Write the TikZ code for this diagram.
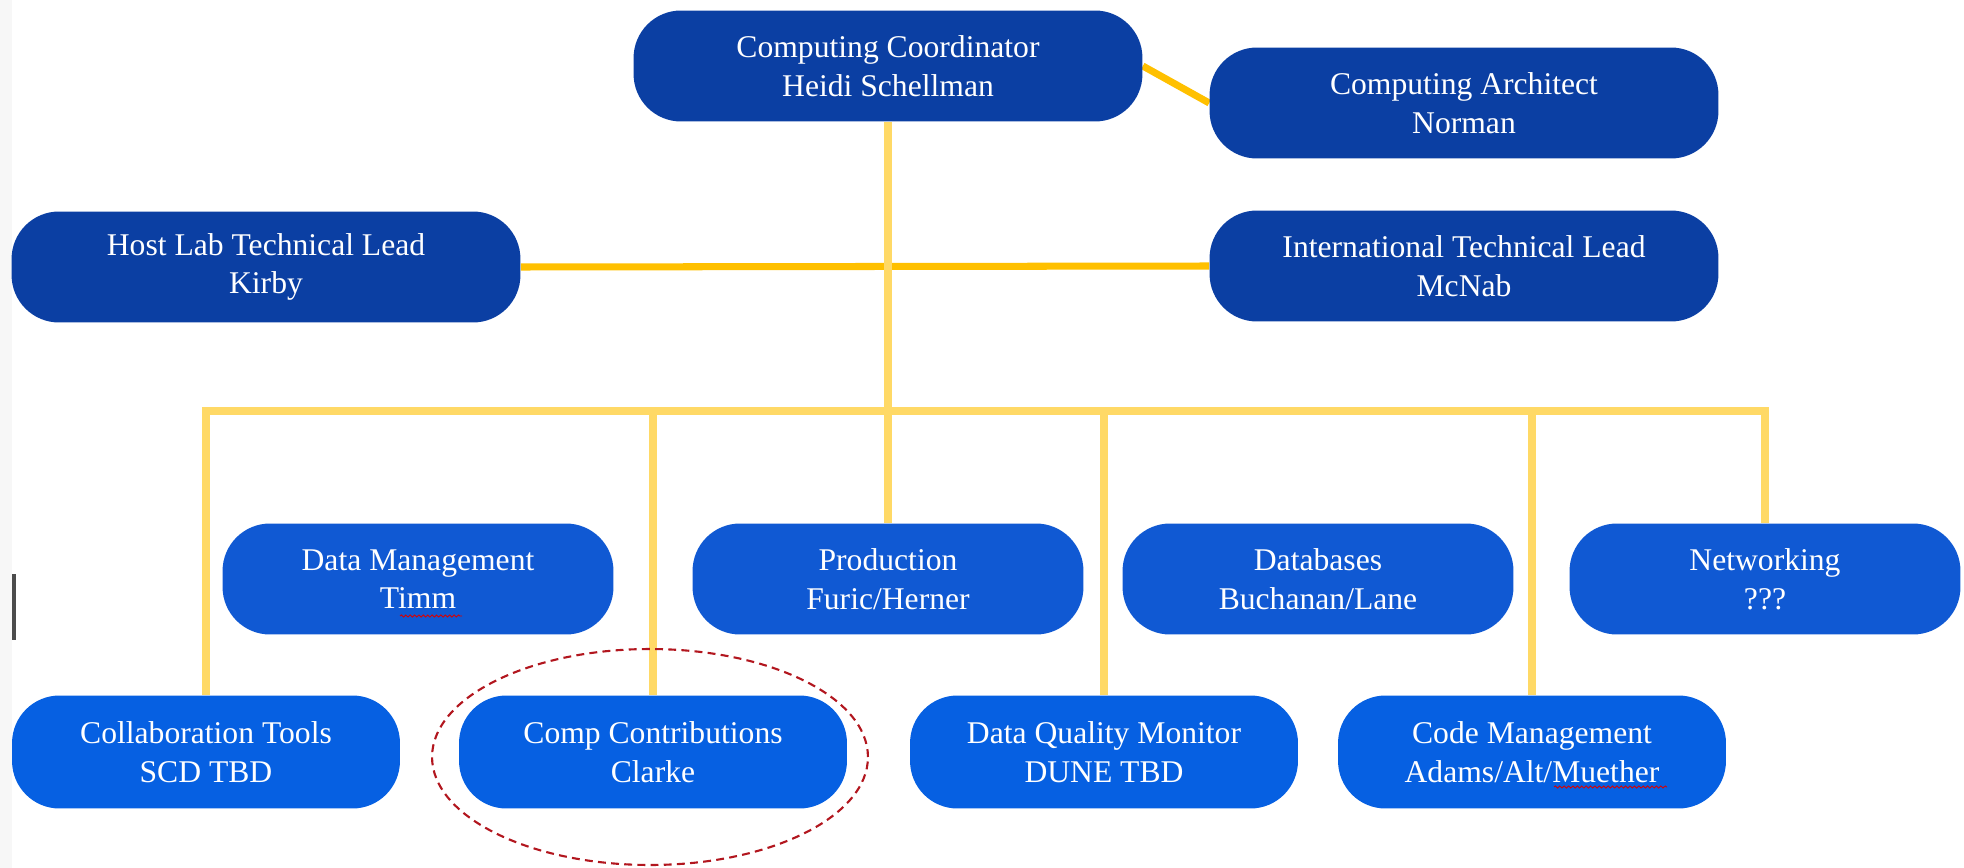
\documentclass[tikz,border=0pt]{standalone}
\usepackage{fontspec}
\setmainfont{Liberation Serif}
\usetikzlibrary{positioning,calc,backgrounds,decorations.pathmorphing}
\definecolor{leadblue}{HTML}{0B3FA3}
\definecolor{areablue}{HTML}{1059D3}
\definecolor{taskblue}{HTML}{0660E2}
\definecolor{trunkyellow}{HTML}{FFD966}
\definecolor{linkorange}{HTML}{FFC000}
\definecolor{markred}{HTML}{B2161E}
\begin{document}
\begin{tikzpicture}[x=0.02cm,y=-0.02cm,
  box/.style={rounded corners=0.95cm,text=white,align=center,inner sep=0pt,
    font=\fontsize{18}{22}\selectfont},
  lead/.style={box,fill=leadblue,minimum width=10.18cm,minimum height=2.22cm},
  area/.style={box,fill=areablue,minimum width=7.82cm,minimum height=2.22cm},
  task/.style={box,fill=taskblue,minimum width=7.76cm,minimum height=2.26cm},
  trunk/.style={trunkyellow,line width=4.5pt},
  link/.style={linkorange,line width=4pt},
  squiggle/.style={red!85!black,line width=0.5pt,decorate,
    decoration={snake,amplitude=0.6pt,segment length=2.5pt}}]
  \useasboundingbox (0,0) rectangle (1964,868);
  \fill[black!3] (0,0) rectangle (12,868);
  % leads
  \node[lead] (coord) at (888,66) {Computing Coordinator\\Heidi Schellman};
  \node[lead] (arch) at (1464,103) {Computing Architect\\Norman};
  \node[lead] (host) at (266,267) {Host Lab Technical Lead\\Kirby};
  \node[lead] (intl) at (1464,266) {International Technical Lead\\McNab};
  % areas
  \node[area] (dm) at (418,579) {Data Management\\Timm};
  \node[area] (prod) at (888,579) {Production\\Furic/Herner};
  \node[area] (db) at (1318,579) {Databases\\Buchanan/Lane};
  \node[area] (net) at (1765,579) {Networking\\???};
  \node[task] (collab) at (206,752) {Collaboration Tools\\SCD TBD};
  \node[task] (contrib) at (653,752) {Comp Contributions\\Clarke};
  \node[task] (dqm) at (1104,752) {Data Quality Monitor\\DUNE TBD};
  \node[task] (code) at (1532,752) {Code Management\\Adams/Alt/Muether};
  \coordinate (bus) at (888,411);
  \begin{scope}[on background layer]
    \draw[link] (coord.east) -- (arch.west);
    \draw[link] (host.east) -- (intl.west);
    \draw[trunk] (coord.south) -- (bus);
    \draw[trunk] (collab.north) |- (bus) -| (net.north);
    \foreach \n in {contrib,prod,dqm,code}
      \draw[trunk] (bus -| \n.north) -- (\n.north);
  \end{scope}
  \draw[markred,dashed,dash pattern=on 4.5pt off 3pt,line width=1.2pt]
    (650,757) ellipse [x radius=4.36cm,y radius=2.16cm];
  \draw[squiggle] (400,616) -- (462,616);
  \draw[squiggle] (1554,787) -- (1667,787);
  \draw[black!70,line width=2pt] (14,574) -- (14,640);
\end{tikzpicture}
\end{document}
